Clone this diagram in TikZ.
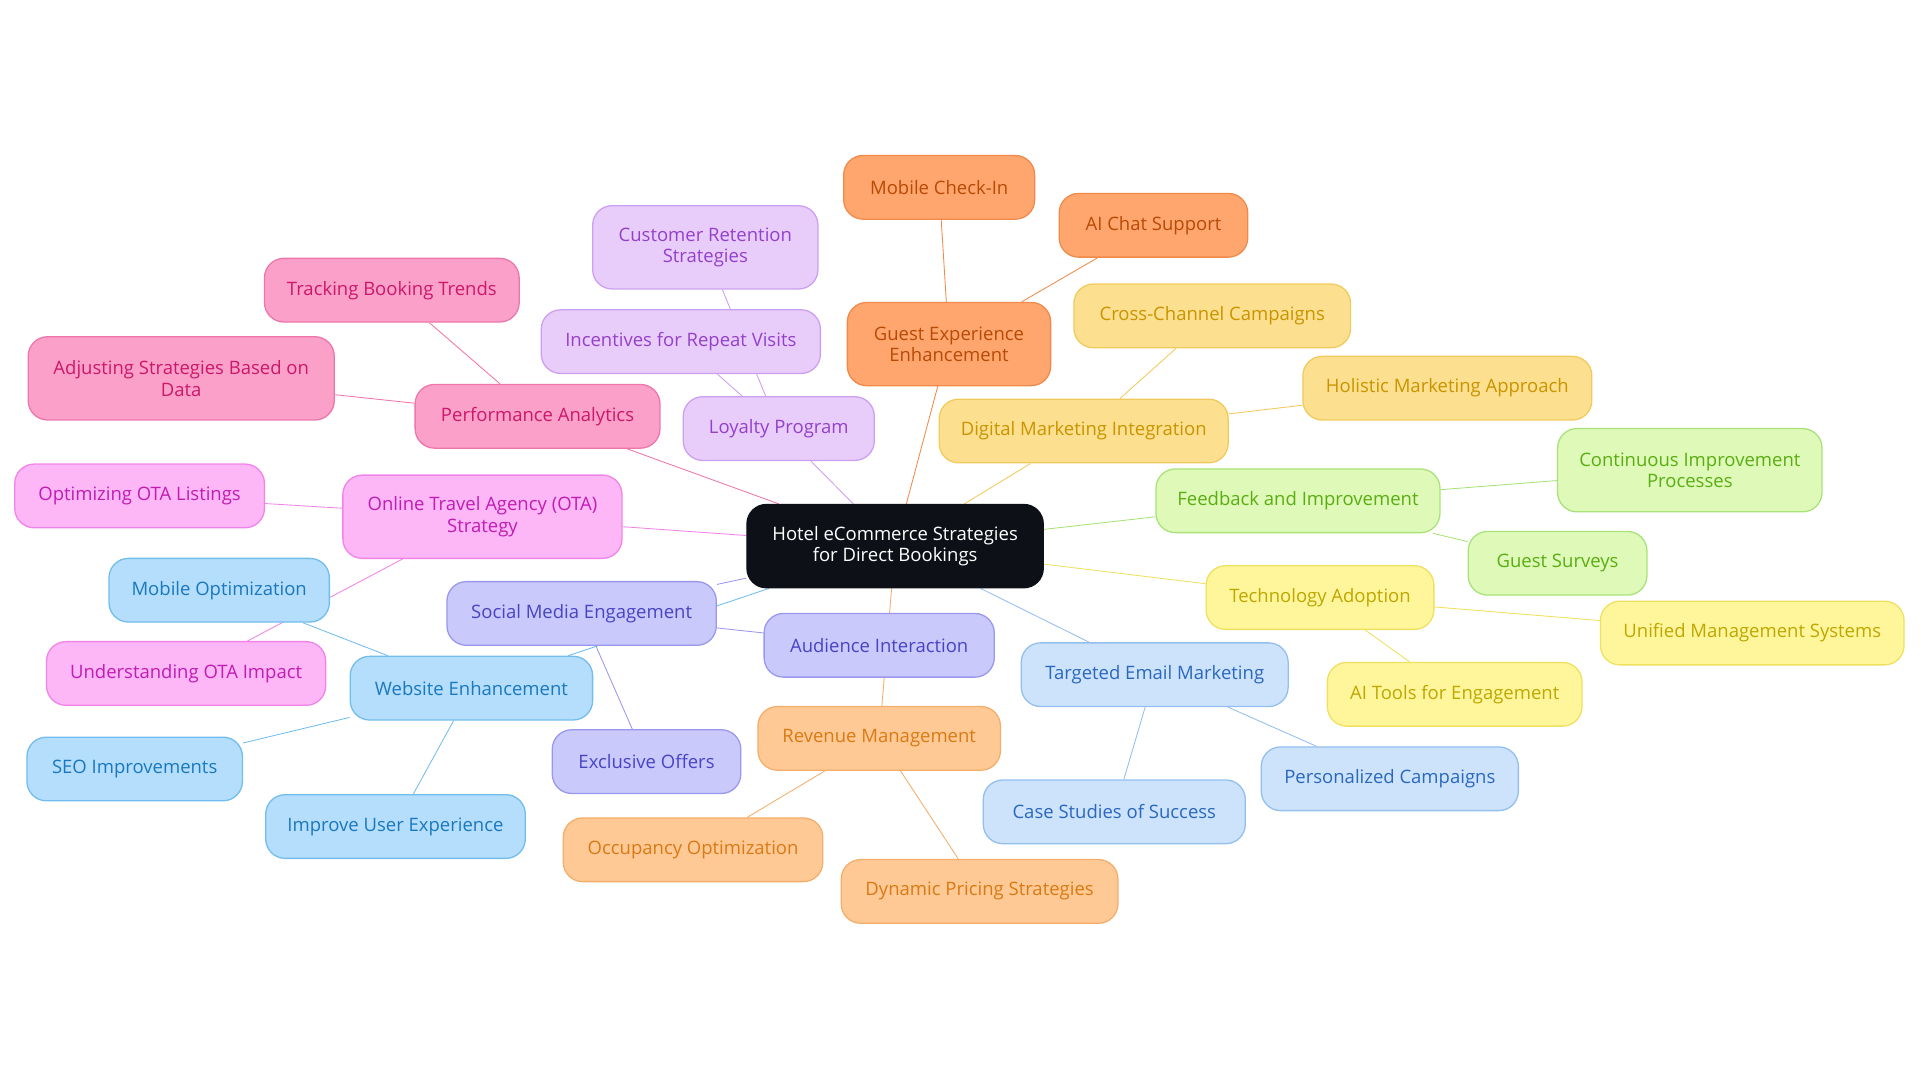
\documentclass[tikz,border=0pt]{standalone}
\usepackage{fontspec}
\setmainfont{Open Sans}
\usetikzlibrary{backgrounds}
% branch colours: fill, line, text
\definecolor{hubF}{HTML}{0D1117}
\definecolor{geF}{HTML}{FFA66F}\definecolor{geD}{HTML}{F08A4B}\definecolor{geT}{HTML}{B84A06}
\definecolor{dmF}{HTML}{FDE08F}\definecolor{dmD}{HTML}{F2C95C}\definecolor{dmT}{HTML}{C99400}
\definecolor{fbF}{HTML}{DEF9B8}\definecolor{fbD}{HTML}{A9E27A}\definecolor{fbT}{HTML}{5AAE12}
\definecolor{taF}{HTML}{FFF69C}\definecolor{taD}{HTML}{F0E060}\definecolor{taT}{HTML}{BFA600}
\definecolor{emF}{HTML}{CDE3FB}\definecolor{emD}{HTML}{93BFEF}\definecolor{emT}{HTML}{2A68C0}
\definecolor{smF}{HTML}{C9C9FB}\definecolor{smD}{HTML}{9A98EE}\definecolor{smT}{HTML}{4845C4}
\definecolor{weF}{HTML}{B4DEFB}\definecolor{weD}{HTML}{72BDEE}\definecolor{weT}{HTML}{1A78C0}
\definecolor{rmF}{HTML}{FFC995}\definecolor{rmD}{HTML}{F4AE6C}\definecolor{rmT}{HTML}{DA7A14}
\definecolor{otF}{HTML}{FDB6F6}\definecolor{otD}{HTML}{F184E8}\definecolor{otT}{HTML}{C11CB4}
\definecolor{paF}{HTML}{FBA1C9}\definecolor{paD}{HTML}{EE76AB}\definecolor{paT}{HTML}{CC176C}
\definecolor{lpF}{HTML}{E8CDFB}\definecolor{lpD}{HTML}{CD9FF2}\definecolor{lpT}{HTML}{9440CC}

\tikzset{
  box/.style={rounded corners=9pt, draw, line width=0.6pt, align=center,
    minimum height=1.04cm, inner sep=2pt, font=\fontsize{8.6}{10}\selectfont},
  tall/.style={minimum height=1.36cm},
  hub/.style={box, fill=hubF, draw=hubF, text=white, minimum height=1.36cm},
  ge/.style={box, fill=geF, draw=geD, text=geT},
  dm/.style={box, fill=dmF, draw=dmD, text=dmT},
  fb/.style={box, fill=fbF, draw=fbD, text=fbT},
  ta/.style={box, fill=taF, draw=taD, text=taT},
  em/.style={box, fill=emF, draw=emD, text=emT},
  sm/.style={box, fill=smF, draw=smD, text=smT},
  we/.style={box, fill=weF, draw=weD, text=weT},
  rm/.style={box, fill=rmF, draw=rmD, text=rmT},
  ot/.style={box, fill=otF, draw=otD, text=otT},
  pa/.style={box, fill=paF, draw=paD, text=paT},
  lp/.style={box, fill=lpF, draw=lpD, text=lpT},
  link/.style={line width=0.75pt}
}

\begin{document}
\begin{tikzpicture}[x=0.02cm,y=-0.02cm]
  \useasboundingbox (0,0) rectangle (1568,884);

  \node[hub, minimum width=4.84cm] (hub) at (731,446) {Hotel eCommerce Strategies\\for Direct Bookings};

  \node[ge, tall, minimum width=3.32cm] (guest) at (775,281) {Guest Experience\\Enhancement};
  \node[ge, minimum width=3.12cm] (checkin) at (767,153) {Mobile Check-In};
  \node[ge, minimum width=3.08cm] (chat) at (942,184) {AI Chat Support};

  \node[dm, minimum width=4.72cm] (digital) at (885,352) {Digital Marketing Integration};
  \node[dm, minimum width=4.52cm] (cross) at (990,258) {Cross-Channel Campaigns};
  \node[dm, minimum width=4.72cm] (holistic) at (1182,317) {Holistic Marketing Approach};

  \node[fb, minimum width=4.64cm] (feedback) at (1060,409) {Feedback and Improvement};
  \node[fb, tall, minimum width=4.32cm] (continuous) at (1380,384) {Continuous Improvement\\Processes};
  \node[fb, minimum width=2.92cm] (surveys) at (1272,460) {Guest Surveys};

  \node[ta, minimum width=3.72cm] (tech) at (1078,488) {Technology Adoption};
  \node[ta, minimum width=4.96cm] (unified) at (1431,517) {Unified Management Systems};
  \node[ta, minimum width=4.16cm] (aitools) at (1188,567) {AI Tools for Engagement};

  \node[em, minimum width=4.36cm] (email) at (943,551) {Targeted Email Marketing};
  \node[em, minimum width=4.2cm] (personal) at (1135,636) {Personalized Campaigns};
  \node[em, minimum width=4.28cm] (cases) at (910,663) {Case Studies of Success};

  \node[sm, minimum width=4.4cm] (social) at (475,501) {Social Media Engagement};
  \node[sm, minimum width=3.76cm] (audience) at (718,527) {Audience Interaction};
  \node[sm, minimum width=3.08cm] (offers) at (528,622) {Exclusive Offers};

  \node[rm, minimum width=3.96cm] (revenue) at (718,603) {Revenue Management};
  \node[rm, minimum width=4.24cm] (occupancy) at (566,694) {Occupancy Optimization};
  \node[rm, minimum width=4.52cm] (pricing) at (800,728) {Dynamic Pricing Strategies};

  \node[ot, tall, minimum width=4.56cm] (ota) at (394,422) {Online Travel Agency (OTA)\\Strategy};
  \node[ot, minimum width=4.08cm] (listings) at (114,405) {Optimizing OTA Listings};
  \node[ot, minimum width=4.56cm] (impact) at (152,550) {Understanding OTA Impact};

  \node[we, minimum width=3.96cm] (website) at (385,562) {Website Enhancement};
  \node[we, minimum width=3.6cm] (mobile) at (179,482) {Mobile Optimization};
  \node[we, minimum width=3.52cm] (seo) at (110,628) {SEO Improvements};
  \node[we, minimum width=4.24cm] (ux) at (323,675) {Improve User Experience};

  \node[pa, minimum width=4cm] (analytics) at (439,340) {Performance Analytics};
  \node[pa, minimum width=4.16cm] (trends) at (320,237) {Tracking Booking Trends};
  \node[pa, tall, minimum width=5cm] (adjust) at (148,309) {Adjusting Strategies Based on\\Data};

  \node[lp, minimum width=3.12cm] (loyalty) at (636,350) {Loyalty Program};
  \node[lp, minimum width=4.56cm] (repeat) at (556,279) {Incentives for Repeat Visits};
  \node[lp, tall, minimum width=3.68cm] (retention) at (576,202) {Customer Retention\\Strategies};

  \begin{scope}[on background layer, link]
    \draw[geD] (hub) -- (guest) (guest) -- (checkin) (guest) -- (chat);
    \draw[dmD] (hub) -- (digital) (digital) -- (cross) (digital) -- (holistic);
    \draw[fbD] (hub) -- (feedback) (feedback) -- (continuous) (feedback) -- (surveys);
    \draw[taD] (hub) -- (tech) (tech) -- (unified) (tech) -- (aitools);
    \draw[emD] (hub) -- (email) (email) -- (personal) (email) -- (cases);
    \draw[smD] (hub) -- (social) (social) -- (audience) (social) -- (offers);
    \draw[rmD] (hub) -- (revenue) (revenue) -- (occupancy) (revenue) -- (pricing);
    \draw[otD] (hub) -- (ota) (ota) -- (listings) (ota) -- (impact);
    \draw[weD] (hub) -- (website) (website) -- (mobile) (website) -- (seo) (website) -- (ux);
    \draw[paD] (hub) -- (analytics) (analytics) -- (trends) (analytics) -- (adjust);
    \draw[lpD] (hub) -- (loyalty) (loyalty) -- (repeat) (loyalty) -- (retention);
  \end{scope}
\end{tikzpicture}
\end{document}
